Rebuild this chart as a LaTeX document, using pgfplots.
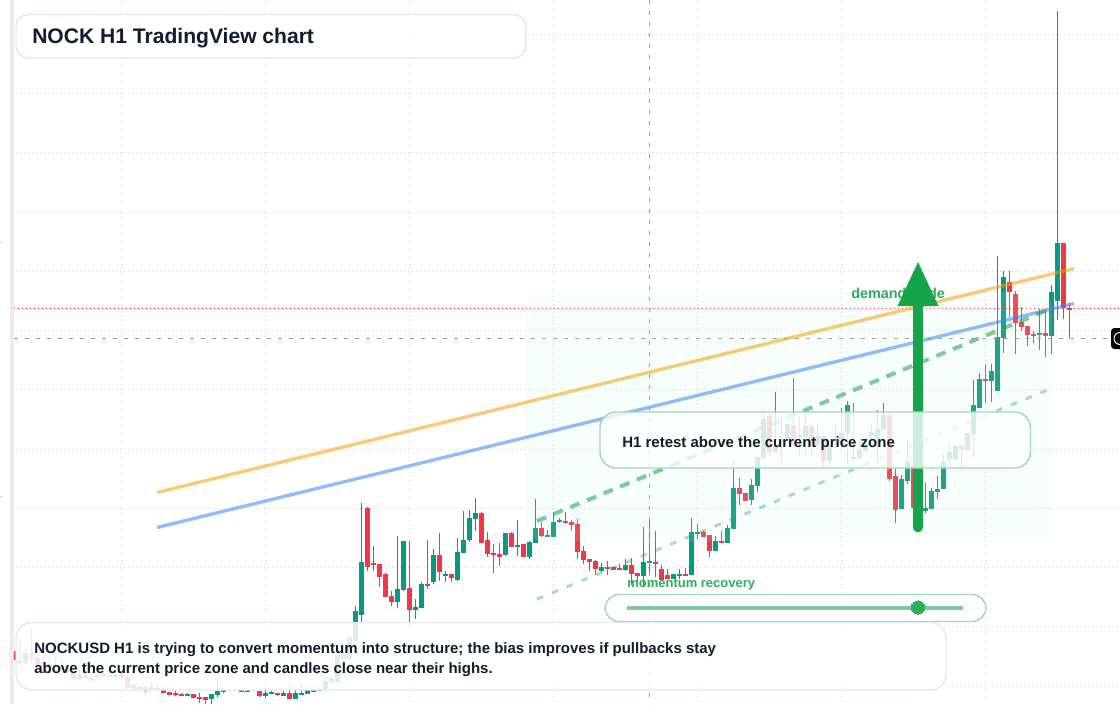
\documentclass[border=0pt]{standalone}
\usepackage{pgfplots}
\usepackage{pgfplotstable}
\usepackage{fontspec}
\setmainfont{Liberation Sans}
\pgfplotsset{compat=1.18}
\definecolor{cgreen}{HTML}{089981}
\definecolor{cred}{HTML}{F23645}
\definecolor{zone}{HTML}{C5F7DE}
\definecolor{boxblue}{HTML}{DFE9FB}
\definecolor{boxgreen}{HTML}{9FDAB5}
\definecolor{ink}{HTML}{111C2E}
\definecolor{lab}{HTML}{16A34A}
\definecolor{gridc}{HTML}{D4D4D4}
\definecolor{strip}{HTML}{ECECEC}
\definecolor{mini}{HTML}{CFCFCF}
\definecolor{cross}{HTML}{9A9A9A}
\definecolor{orangeline}{HTML}{F59E0B}
\definecolor{blueline}{HTML}{3B82F6}
\pgfplotstableread{
x top bot hi lo
25.5 653 663 646 665
49.5 664 667 656 670
67.5 669 672 666 674
79.5 674 679 670 681
97.5 675 677 672 679
103.5 674 675 670 677
115.5 675 676 672 679
121.5 675 676 670 678
133.5 685 689 683 690
139.5 687 688 685 689
151.5 687 688 682 690
157.5 688 689 684 690
187.5 694 695 693 695
211.5 694 699 694 704
217.5 691 695 678 697
241.5 690 691 689 691
247.5 690 691 689 691
265.5 693 696 687 698
271.5 692 693 691 694
283.5 693 696 691 696
295.5 693 699 690 699
301.5 693 694 683 695
307.5 690 694 687 694
313.5 690 691 689 691
319.5 689 690 687 690
325.5 681 689 676 690
331.5 678 682 677 683
337.5 655 682 651 683
349.5 638 659 635 660
355.5 611 641 606 643
361.5 562 615 503 622
397.5 589 602 536 608
403.5 541 590 541 591
415.5 607 610 599 619
421.5 584 608 582 608
433.5 555 582 549 584
445.5 574 575 571 582
457.5 552 580 538 581
463.5 540 553 511 553
469.5 518 540 510 542
475.5 513 519 498 531
505.5 533 555 533 556
517.5 545 547 520 556
529.5 542 557 541 559
535.5 528 543 499 543
547.5 535 536 530 537
553.5 522 537 512 537
559.5 520 521 518 523
601.5 567 571 563 572
625.5 565 570 559 571
643.5 562 576 527 587
649.5 561 562 519 572
673.5 574 579 574 579
679.5 574 575 569 579
691.5 532 575 518 575
697.5 532 533 524 539
715.5 541 551 536 551
727.5 528 543 525 543
733.5 488 529 459 529
751.5 485 500 479 505
757.5 457 486 457 492
763.5 419 458 411 458
775.5 447 452 392 452
781.5 440 441 417 463
787.5 424 439 424 439
799.5 435 437 417 455
805.5 426 437 411 455
817.5 436 445 423 450
829.5 445 461 445 466
835.5 438 439 425 448
841.5 433 445 408 451
847.5 405 433 401 464
859.5 450 458 440 460
865.5 446 451 438 451
871.5 432 436 425 448
877.5 429 439 410 463
883.5 415 430 403 430
901.5 479 509 475 509
907.5 462 481 440 484
919.5 480 505 470 510
925.5 508 511 483 513
931.5 491 509 488 509
937.5 489 492 476 499
943.5 462 489 454 489
949.5 452 459 445 466
955.5 446 459 446 461
967.5 433 450 433 450
973.5 405 434 380 458
979.5 379 408 373 408
991.5 371 381 364 402
997.5 337 391 256 391
1003.5 277 338 271 353
1039.5 333 334 309 350
1051.5 292 336 285 354
1057.5 243 301 11 320
}\greentable
\pgfplotstableread{
x top bot hi lo
13.5 651 660 645 662
19.5 660 663 639 665
31.5 653 658 628 663
37.5 657 665 657 665
43.5 662 666 655 668
55.5 665 668 658 671
61.5 666 669 659 672
73.5 673 679 670 680
85.5 674 678 672 678
91.5 678 681 678 681
109.5 675 677 672 677
127.5 677 688 675 689
145.5 687 690 686 692
163.5 690 692.7 687 692.7
169.5 692 695 692 695
175.5 693 694 691 696
181.5 694 695 693 695
193.5 694 698 694 698
199.5 697 698 693 703
205.5 697 700 697 704
223.5 690 691 690 693
259.5 691 696 691 697
277.5 693 695 693 696
289.5 693 699 683 699
343.5 653 659 651 660
367.5 508 567 507 571
373.5 563.3 565 546 571
379.5 564 577 564 587
385.5 574 597 573 597
391.5 596 602 591 606
409.5 588 610 541 627
427.5 584 585 540 589
439.5 555 572 533 581
451.5 574 578 574 582
481.5 513 543 512 543
487.5 540 554 532 557
493.5 553 554 544 573
499.5 554 557 543 566
511.5 533 547 532 547
523.5 544 557 544 557
541.5 528 536 522 537
565.5 521 522 512 524
571.5 522 525 520 531
577.5 524 552 519 559
583.5 551 560 546 564
589.5 559 562 559 571
595.5 561 569 560 575
607.5 567 568 561 575
613.5 567 570 567 570
619.5 568 569 564 570
631.5 565 574 558 585
637.5 573 576 573 582
655.5 562 564 531 577
661.5 569 580 565 580
667.5 575 579 569 579
685.5 574 575 568 575
703.5 532 537 531 537
709.5 535 551 535 557
721.5 541 542 531 543
739.5 488 494 478 505
745.5 493 501 493 501
769.5 416 453 414 457
793.5 425 446 378 446
811.5 426 445 426 455
823.5 436 461 436 468
853.5 457 458 403 463
889.5 415 479 415 481
895.5 476 510 469 523
913.5 465 508 455 510
961.5 446 450 446 469
985.5 379 380 365 403
1009.5 282 292 271 317
1015.5 294 323 291 354
1021.5 322 327 307 331
1027.5 326 335 326 346
1033.5 334 335 331 343
1045.5 333 336 309 357
1063.5 243 308 243 319
1069.5 308 309 303 338
}\redtable
\newcommand{\candles}[2]{%
  \addplot[draw=none,mark=none,forget plot,
    error bars/.cd,y dir=both,y explicit,error mark=none,
    error bar style={line width=0.75pt,color=#2}]
    table[x=x,y expr=(\thisrow{hi}+\thisrow{lo})/2,y error expr=(\thisrow{lo}-\thisrow{hi})/2]{#1};
  \addplot[draw=none,mark=none,forget plot,
    error bars/.cd,y dir=both,y explicit,error mark=none,
    error bar style={line width=3.75pt,color=#2}]
    table[x=x,y expr=(\thisrow{top}+\thisrow{bot})/2,y error expr=(\thisrow{bot}-\thisrow{top})/2]{#1};
}
\begin{document}
\begin{tikzpicture}
\useasboundingbox (0,0) rectangle (840pt,528pt);
\begin{axis}[
  at={(0,0)},anchor=south west,
  scale only axis,width=840pt,height=528pt,
  xmin=0,xmax=1120,ymin=0,ymax=704,y dir=reverse,
  axis line style={draw=none},tick style={draw=none},
  xtick={121.5,265.5,409.5,553.5,697.5,841.5,985.5},
  ytick={34.4,93.6,152.8,212,271.2,330.5,389.7,449,508,567.3,626.5,686},
  xticklabels={},yticklabels={},
  grid=major,
  grid style={draw=gridc,line width=0.75pt,dash pattern=on 0.9pt off 2.1pt},
  clip=true
]
% candles
\candles{\greentable}{cgreen}
\candles{\redtable}{cred}
% left strip
\addplot[fill=white,draw=none,forget plot] coordinates {(0,0)(10,0)(10,704)(0,704)} --cycle;
\addplot[fill=strip,draw=none,forget plot] coordinates {(10,0)(14,0)(14,704)(10,704)} --cycle;
\addplot[draw=mini,line width=0.75pt,mark=none,forget plot] coordinates {(0,242)(2,242)};
\addplot[draw=mini,line width=0.75pt,mark=none,forget plot] coordinates {(0,496.5)(2,496.5)};
% crosshair and price lines
\addplot[draw=cross,line width=0.75pt,dash pattern=on 3pt off 5.25pt,mark=none,forget plot] coordinates {(649.5,0)(649.5,704)};
\addplot[draw=cross,line width=0.75pt,dash pattern=on 3pt off 5.25pt,mark=none,forget plot] coordinates {(14,338.5)(1111,338.5)};
\addplot[draw=cred,line width=0.75pt,dash pattern=on 0.9pt off 2.1pt,mark=none,forget plot] coordinates {(14,308.5)(1120,308.5)};
% zone
\fill[zone,fill opacity=0.12,rounded corners=13pt] (axis cs:526,292) rectangle (axis cs:1052,541);
% trend lines
\addplot[draw=orangeline,opacity=0.55,line width=2.5pt,mark=none,forget plot] coordinates {(157,492.5)(1074,268.5)};
\addplot[draw=blueline,opacity=0.55,line width=2.5pt,mark=none,forget plot] coordinates {(157,527.5)(1074,303.5)};
\addplot[draw=lab,opacity=0.55,line width=3pt,dash pattern=on 7.5pt off 6pt,mark=none,forget plot] coordinates {(537,521)(1050,309)};
\addplot[draw=lab,opacity=0.35,line width=2.25pt,dash pattern=on 5pt off 7pt,mark=none,forget plot] coordinates {(537,599)(1050,389)};
% demand label, arrow
\node[anchor=base west,inner sep=0pt,text=lab!90!white,font=\fontsize{10.8pt}{12pt}\selectfont\bfseries] at (axis cs:851,298) {demand node};
\addplot[draw=lab,line width=7.3pt,line cap=round,mark=none,forget plot] coordinates {(918,527.5)(918,300)};
\addplot[fill=lab,draw=none,forget plot] coordinates {(918,262)(938.5,306)(897.5,306)} --cycle;
% H1 box
\draw[draw=boxgreen,line width=1.1pt,fill=white,fill opacity=0.8,rounded corners=12pt] (axis cs:600,412) rectangle (axis cs:1030.5,468);
\node[anchor=base west,inner sep=0pt,text=ink,font=\fontsize{11.25pt}{13pt}\selectfont\bfseries] at (axis cs:622,447) {H1 retest above the current price zone};
% momentum
\node[anchor=base west,inner sep=0pt,text=lab!90!white,font=\fontsize{9.75pt}{12pt}\selectfont\bfseries] at (axis cs:627,587) {momentum recovery};
\draw[draw=boxgreen,line width=1.1pt,fill=white,fill opacity=0.8,rounded corners=10.5pt] (axis cs:605,594.5) rectangle (axis cs:986,621.5);
\addplot[draw=lab,opacity=0.55,line width=3pt,mark=none,forget plot] coordinates {(627,607.5)(963,607.5)};
\addplot[only marks,mark=*,mark size=5pt,mark options={fill=lab!90!white,draw=lab!90!white,line width=0pt},forget plot] coordinates {(918,607.5)};
% text boxes
\draw[draw=boxblue,line width=1.1pt,fill=white,fill opacity=0.85,rounded corners=12pt] (axis cs:16,622.5) rectangle (axis cs:946,690);
\node[anchor=base west,inner sep=0pt,text=ink,font=\fontsize{11.25pt}{13pt}\selectfont\bfseries] at (axis cs:34,653) {NOCKUSD H1 is trying to convert momentum into structure; the bias improves if pullbacks stay};
\node[anchor=base west,inner sep=0pt,text=ink,font=\fontsize{11.25pt}{13pt}\selectfont\bfseries] at (axis cs:34,673) {above the current price zone and candles close near their highs.};
\draw[draw=boxblue,line width=1.1pt,fill=white,fill opacity=0.9,rounded corners=9pt] (axis cs:16,14.5) rectangle (axis cs:526,58);
\node[anchor=base west,inner sep=0pt,text=ink,font=\fontsize{15.8pt}{19pt}\selectfont\bfseries] at (axis cs:32,43.5) {NOCK H1 TradingView chart};
% right label
\fill[black,rounded corners=2.5pt] (axis cs:1111,328) rectangle (axis cs:1125,349);
\draw[white,line width=0.75pt] (axis cs:1120,338.5) circle[radius=4.5pt];
\end{axis}
\end{tikzpicture}
\end{document}
